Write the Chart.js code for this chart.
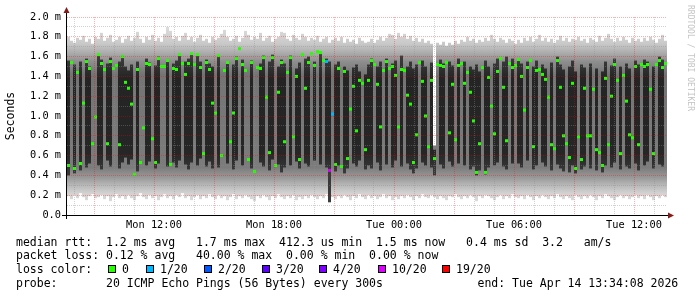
<!DOCTYPE html>
<html>
<head>
<meta charset="utf-8">
<script src="https://cdn.jsdelivr.net/npm/chart.js@4.4.1/dist/chart.umd.min.js"></script>
<style>
    html, body { margin: 0; padding: 0; background: #fff; }
    #wrap { position: relative; width: 697px; height: 297px; overflow: hidden; background: #fff; }
    #chart { position: absolute; left: 0; top: 0; }
    .txt {
        position: absolute;
        font-family: 'DejaVu Sans Mono', monospace;
        font-size: 11.5px;
        line-height: 14px;
        color: #000;
        white-space: pre;
    }
    .box { position: absolute; width: 8px; height: 8px; box-sizing: border-box; border: 1px solid #000; }
    #wm {
        position: absolute;
        left: 695px;
        top: 5px;
        transform: rotate(90deg);
        transform-origin: 0 0;
        font-family: 'DejaVu Sans Mono', monospace;
        font-size: 8px;
        line-height: 10px;
        color: #c4c4c4;
        white-space: pre;
    }
</style>
</head>
<body>
<div id="wrap">
    <canvas id="chart" width="697" height="297"></canvas>
    <div id="wm">RRDTOOL / TOBI OETIKER</div>
    <div class="txt" style="left:16px;top:234.5px">median rtt:  1.2 ms avg   1.7 ms max  412.3 us min  1.5 ms now   0.4 ms sd  3.2   am/s</div>
    <div class="txt" style="left:16px;top:248px">packet loss: 0.12 % avg   40.00 % max  0.00 % min  0.00 % now</div>
    <div class="txt" style="left:16px;top:262px">loss color:</div>
    <div id="lossLegend"></div>
    <div class="txt" style="left:16px;top:276px">probe:       20 ICMP Echo Pings (56 Bytes) every 300s</div>
    <div class="txt" style="left:477.5px;top:276px">end: Tue Apr 14 13:34:08 2026</div>
</div>
<script>
// time axis: hours since Mon 00:00, one bin = 9 minutes
const hourStart = 7.65
const binHours = 0.15
const spanHours = 30
const timeTicks = [12, 18, 24, 30, 36]
const timeLabels = ['Mon 12:00', 'Mon 18:00', 'Tue 00:00', 'Tue 06:00', 'Tue 12:00']

// median rtt per bin (ms)
const medianRtt = [
    0.50, 1.54, 0.47, 1.44, 0.52, 1.13, 1.55, 1.48, 0.72, 0.99,
    1.62, 1.53, 1.47, 0.72, 1.55, 1.48, 1.51, 0.71, 1.60, 1.34,
    1.28, 1.12, 0.41, 1.47, 0.53, 0.88, 1.53, 1.52, 0.77, 0.53,
    1.58, 1.50, 1.50, 1.56, 0.51, 1.48, 1.47, 1.62, 1.53, 1.42,
    1.53, 1.63, 1.52, 1.62, 1.49, 0.62, 1.54, 1.47, 1.13, 1.03,
    1.61, 0.60, 1.46, 1.54, 0.74, 1.03, 1.58, 1.68, 1.52, 1.46,
    0.56, 1.54, 0.44, 1.49, 1.48, 1.59, 1.19, 0.63, 1.59, 0.50,
    1.24, 1.54, 0.74, 1.44, 1.59, 0.79, 1.40, 0.56, 1.62, 1.28,
    1.54, 1.63, 1.51, 1.65, 1.64, 1.56, 1.55, 0.45, 1.02, 0.51,
    1.48, 0.49, 1.45, 0.57, 1.07, 1.30, 0.85, 1.36, 1.33, 0.66,
    1.36, 1.56, 1.52, 1.32, 0.89, 1.46, 1.55, 1.48, 1.50, 1.41,
    0.89, 1.47, 1.46, 1.21, 1.12, 0.53, 0.81, 1.54, 1.35, 1.00,
    0.69, 1.36, 0.57, 1.52, 1.51, 1.50, 1.54, 0.83, 1.32, 0.76,
    1.51, 1.53, 1.33, 1.44, 1.24, 0.95, 0.43, 0.72, 1.49, 0.43,
    1.39, 1.10, 0.82, 1.45, 1.58, 1.29, 0.75, 1.53, 1.49, 1.51,
    1.57, 1.40, 1.06, 1.49, 1.56, 0.69, 1.46, 1.47, 1.42, 1.37,
    1.19, 0.71, 0.67, 1.56, 1.29, 0.80, 0.72, 0.58, 1.33, 0.47,
    0.79, 0.56, 1.28, 0.80, 0.80, 1.27, 0.66, 0.63, 0.50, 1.38,
    0.71, 1.20, 1.52, 1.36, 0.62, 1.41, 1.15, 0.81, 0.78, 1.50,
    0.71, 1.52, 1.50, 1.52, 1.27, 0.62, 1.52, 1.56, 1.49, 1.53,
]

// lowest and highest ping per bin (ms)
const rttMin = [
    0.19, 0.16, 0.20, 0.17, 0.22, 0.18, 0.15, 0.19, 0.21, 0.17,
    0.18, 0.20, 0.16, 0.19, 0.14, 0.18, 0.21, 0.17, 0.19, 0.16,
    0.20, 0.17, 0.15, 0.19, 0.22, 0.18, 0.16, 0.20, 0.17, 0.19,
    0.15, 0.18, 0.21, 0.17, 0.19, 0.16, 0.20, 0.18, 0.22, 0.17,
    0.19, 0.15, 0.18, 0.20, 0.16, 0.19, 0.17, 0.21, 0.18, 0.16,
    0.20, 0.17, 0.19, 0.15, 0.18, 0.21, 0.16, 0.19, 0.17, 0.20,
    0.18, 0.16, 0.14, 0.19, 0.17, 0.20, 0.18, 0.15, 0.19, 0.17,
    0.21, 0.18, 0.16, 0.19, 0.17, 0.20, 0.15, 0.18, 0.16, 0.19,
    0.17, 0.20, 0.18, 0.16, 0.19, 0.17, 0.21, 0.12, 0.18, 0.16,
    0.19, 0.17, 0.20, 0.18, 0.15, 0.19, 0.17, 0.21, 0.18, 0.16,
    0.20, 0.17, 0.19, 0.16, 0.18, 0.21, 0.17, 0.19, 0.15, 0.18,
    0.16, 0.19, 0.17, 0.20, 0.18, 0.15, 0.19, 0.17, 0.21, 0.18,
    0.17, 0.20, 0.18, 0.16, 0.19, 0.17, 0.15, 0.19, 0.18, 0.21,
    0.18, 0.16, 0.19, 0.17, 0.20, 0.18, 0.14, 0.19, 0.17, 0.20,
    0.19, 0.17, 0.15, 0.18, 0.20, 0.16, 0.19, 0.17, 0.21, 0.18,
    0.17, 0.19, 0.16, 0.20, 0.18, 0.15, 0.19, 0.17, 0.20, 0.18,
    0.16, 0.19, 0.17, 0.21, 0.18, 0.16, 0.19, 0.17, 0.15, 0.20,
    0.18, 0.16, 0.19, 0.17, 0.20, 0.18, 0.15, 0.19, 0.17, 0.21,
    0.19, 0.17, 0.15, 0.18, 0.20, 0.17, 0.19, 0.16, 0.18, 0.20,
    0.17, 0.19, 0.16, 0.20, 0.18, 0.15, 0.19, 0.17, 0.20, 0.18,
]
const rttMax = [
    1.80, 1.76, 1.74, 1.79, 1.77, 1.81, 1.75, 1.78, 1.73, 1.80,
    1.78, 1.84, 1.76, 1.79, 1.82, 1.75, 1.77, 1.80, 1.74, 1.78,
    1.81, 1.76, 1.79, 1.85, 1.78, 1.74, 1.80, 1.77, 1.82, 1.76,
    1.79, 1.75, 1.83, 1.90, 1.86, 1.78, 1.80, 1.76, 1.81, 1.84,
    1.77, 1.80, 1.75, 1.79, 1.82, 1.76, 1.78, 1.74, 1.80, 1.77,
    1.79, 1.83, 1.87, 1.80, 1.76, 1.78, 1.81, 1.75, 1.79, 1.86,
    1.82, 1.77, 1.80, 1.78, 1.84, 1.76, 1.79, 1.81, 1.75, 1.78,
    1.80, 1.85, 1.84, 1.78, 1.76, 1.82, 1.79, 1.77, 1.83, 1.80,
    1.76, 1.79, 1.77, 1.81, 1.75, 1.78, 1.80, 1.74, 1.77, 1.79,
    1.76, 1.80, 1.74, 1.78, 1.75, 1.77, 1.73, 1.79, 1.76, 1.74,
    1.75, 1.78, 1.74, 1.77, 1.80, 1.76, 1.79, 1.83, 1.82, 1.78,
    1.84, 1.80, 1.83, 1.78, 1.81, 1.76, 1.79, 1.75, 1.78, 1.74,
    1.76, 1.73, 0.70, 1.74, 1.72, 1.75, 1.71, 1.74, 1.72, 1.76,
    1.73, 1.77, 1.75, 1.80, 1.76, 1.78, 1.74, 1.77, 1.75, 1.79,
    1.76, 1.82, 1.78, 1.75, 1.79, 1.77, 1.74, 1.78, 1.76, 1.73,
    1.77, 1.74, 1.79, 1.76, 1.80, 1.75, 1.78, 1.82, 1.76, 1.79,
    1.75, 1.78, 1.74, 1.77, 1.81, 1.76, 1.79, 1.75, 1.78, 1.77,
    1.80, 1.76, 1.78, 1.74, 1.79, 1.77, 1.75, 1.81, 1.76, 1.79,
    1.83, 1.78, 1.75, 1.79, 1.76, 1.80, 1.77, 1.74, 1.79, 1.76,
    1.78, 1.75, 1.79, 1.76, 1.80, 1.77, 1.74, 1.78, 1.82, 1.76,
]

// dense middle of the pings per bin (null = spread out, no dark core)
const coreLo = [
    0.40, null, 0.42, null, 0.45, null, 0.48, 0.52, null, null,
    0.50, 0.46, null, 0.55, 0.49, null, null, 0.47, 0.53, 0.58,
    0.51, 0.56, null, 0.44, null, null, 0.50, 0.54, null, 0.47,
    0.52, null, null, 0.49, null, 0.53, 0.48, 0.55, null, 0.51,
    0.46, 0.53, null, 0.50, 0.57, null, 0.49, 0.54, 0.47, null,
    0.48, null, null, 0.52, null, 0.46, 0.55, null, 0.50, null,
    null, 0.47, null, null, 0.53, 0.49, null, 0.45, 0.56, null,
    0.51, 0.43, 0.48, null, 0.50, null, 0.54, 0.47, null, 0.52,
    0.49, null, 0.55, null, 0.51, null, 0.48, 0.13, null, 0.44,
    0.50, null, 0.42, 0.47, null, 0.52, 0.49, 0.55, null, 0.46,
    0.50, 0.47, null, 0.53, 0.45, null, 0.51, null, 0.48, 0.55,
    null, 0.49, null, 0.52, 0.46, 0.42, 0.47, null, 0.53, 0.50,
    null, 0.48, 0.40, null, 0.51, 0.47, null, 0.54, 0.49, null,
    0.52, null, 0.50, null, 0.46, 0.49, 0.40, 0.45, null, 0.41,
    0.48, null, 0.50, 0.53, null, 0.49, 0.46, null, 0.52, null,
    0.52, 0.48, null, 0.55, null, 0.46, 0.50, null, 0.53, 0.49,
    null, 0.45, null, 0.51, 0.47, 0.44, null, 0.43, 0.50, 0.42,
    null, 0.46, 0.49, null, 0.47, null, 0.45, null, 0.43, 0.50,
    null, 0.48, 0.53, null, 0.46, null, 0.49, 0.47, null, 0.52,
    0.45, null, 0.50, 0.54, null, 0.47, null, 0.51, 0.49, null,
]
const coreHi = [
    1.56, null, 1.52, null, 1.55, null, 1.58, 1.50, null, null,
    1.62, 1.57, null, 1.53, 1.59, null, null, 1.55, 1.61, 1.50,
    1.46, 1.52, null, 1.55, null, null, 1.58, 1.54, null, 1.51,
    1.60, null, null, 1.57, null, 1.53, 1.56, 1.62, null, 1.55,
    1.58, 1.63, null, 1.61, 1.55, null, 1.57, 1.53, 1.50, null,
    1.60, null, null, 1.55, null, 1.52, 1.60, null, 1.57, null,
    null, 1.56, null, null, 1.53, 1.61, null, 1.55, 1.62, null,
    1.50, 1.57, 1.53, null, 1.61, null, 1.48, 1.54, null, 1.58,
    1.60, null, 1.55, null, 1.63, null, 1.58, 1.55, null, 1.52,
    1.55, null, 1.50, 1.46, null, 1.49, 1.52, 1.45, null, 1.42,
    1.52, 1.58, null, 1.50, 1.55, null, 1.58, null, 1.53, 1.56,
    null, 1.61, null, 1.50, 1.55, 1.48, 1.52, null, 1.56, 1.50,
    null, 1.54, 0.66, null, 1.57, 1.53, null, 1.55, 1.51, null,
    1.58, null, 1.55, null, 1.50, 1.47, 1.52, 1.45, null, 1.56,
    1.50, null, 1.53, 1.58, null, 1.55, 1.60, null, 1.58, null,
    1.58, 1.53, null, 1.55, null, 1.50, 1.56, null, 1.52, 1.48,
    null, 1.54, null, 1.60, 1.52, 1.47, null, 1.50, 1.56, 1.45,
    null, 1.52, 1.49, null, 1.53, null, 1.48, null, 1.45, 1.55,
    null, 1.51, 1.58, null, 1.50, null, 1.53, 1.48, null, 1.56,
    1.52, null, 1.57, 1.55, null, 1.50, null, 1.60, 1.57, null,
]

// lost pings (of 20) per bin
const lossCount = [
    0, 0, 0, 0, 0, 0, 0, 0, 0, 0, 0, 0, 0, 0, 0, 0, 0, 0, 0, 0,
    0, 0, 0, 0, 0, 0, 0, 0, 0, 0, 0, 0, 0, 0, 0, 0, 0, 0, 0, 0,
    0, 0, 0, 0, 0, 0, 0, 0, 0, 0, 0, 0, 0, 0, 0, 0, 0, 0, 0, 0,
    0, 0, 0, 0, 0, 0, 0, 0, 0, 0, 0, 0, 0, 0, 0, 0, 0, 0, 0, 0,
    0, 0, 0, 0, 0, 0, 1, 8, 1, 0, 0, 0, 0, 0, 0, 0, 0, 0, 0, 0,
    0, 0, 0, 0, 0, 0, 0, 0, 0, 0, 0, 0, 0, 0, 0, 0, 0, 0, 0, 0,
    0, 0, 0, 0, 0, 0, 0, 0, 0, 0, 0, 0, 0, 0, 0, 0, 0, 0, 0, 0,
    0, 0, 0, 0, 0, 0, 0, 0, 0, 0, 0, 0, 0, 0, 0, 0, 0, 0, 0, 0,
    0, 0, 0, 0, 0, 0, 0, 0, 0, 0, 0, 0, 0, 0, 0, 0, 0, 0, 0, 0,
    0, 0, 0, 0, 0, 0, 0, 0, 0, 0, 0, 0, 0, 0, 0, 0, 0, 0, 0, 0,
]

const lossSteps = [0, 1, 2, 3, 4, 10, 19]
const lossColors = ['#26ff00', '#00b8ff', '#0059ff', '#5e00ff', '#7e00ff', '#dd00ff', '#ff0000']

// smoke shading, value (ms) -> grey
const smokeStops = [
    [0.10, '#dedede'],
    [0.22, '#d2d2d2'],
    [0.30, '#b8b8b8'],
    [0.38, '#989898'],
    [0.48, '#7c7c7c'],
    [1.42, '#747474'],
    [1.55, '#8e8e8e'],
    [1.64, '#adadad'],
    [1.73, '#c9c9c9'],
    [1.90, '#dddddd'],
]
const coreStops = [
    [0.10, '#3c3c3c'],
    [0.45, '#383838'],
    [0.62, '#262626'],
    [1.38, '#242424'],
    [1.60, '#3e3e3e'],
]

const gridRed = 'rgba(255, 0, 0, 0.32)'
const gridGrey = 'rgba(140, 140, 140, 0.4)'
const arrowRed = '#841c1c'
const monoFont = "'DejaVu Sans Mono', monospace"

const lossColor = (n) => {
    for (let i = 0; i < lossSteps.length; i++) {
        if (n <= lossSteps[i]) return lossColors[i]
    }
    return lossColors[lossColors.length - 1]
}

const binTime = medianRtt.map((_, i) => hourStart + (i + 0.5) * binHours)

// legend boxes for loss colours
const boxLefts = [108, 146, 204, 262, 319, 378, 442]
const legendEl = document.getElementById('lossLegend')
lossSteps.forEach((s, i) => {
    const b = document.createElement('div')
    b.className = 'box'
    b.style.left = boxLefts[i] + 'px'
    b.style.top = '265px'
    b.style.background = lossColors[i]
    legendEl.appendChild(b)
    const t = document.createElement('div')
    t.className = 'txt'
    t.style.left = boxLefts[i] + 14 + 'px'
    t.style.top = '262px'
    t.textContent = s === 0 ? '0' : s + '/20'
    legendEl.appendChild(t)
})

const verticalFill = (stops) => (context) => {
    const chart = context.chart
    if (!chart.chartArea) return '#888'
    const y = chart.scales.y
    const v0 = stops[0][0]
    const v1 = stops[stops.length - 1][0]
    const g = chart.ctx.createLinearGradient(0, y.getPixelForValue(v0), 0, y.getPixelForValue(v1))
    stops.forEach(([v, c]) => g.addColorStop((v - v0) / (v1 - v0), c))
    return g
}

const axesPlugin = {
    id: 'axes',
    afterDraw(chart) {
        const c = chart.ctx
        const a = chart.chartArea
        c.save()
        c.fillStyle = '#000'
        c.fillRect(a.left - 1, 11, 1, a.bottom - 11 + 4)
        c.fillRect(a.left - 5, a.bottom, a.right - a.left + 6, 1)
        c.fillStyle = arrowRed
        c.beginPath()
        c.moveTo(a.left - 0.5, 7)
        c.lineTo(a.left - 3.5, 13)
        c.lineTo(a.left + 2.5, 13)
        c.closePath()
        c.fill()
        c.beginPath()
        c.moveTo(a.right + 7, a.bottom + 0.5)
        c.lineTo(a.right + 1, a.bottom - 2.5)
        c.lineTo(a.right + 1, a.bottom + 3.5)
        c.closePath()
        c.fill()
        c.restore()
    },
}

const isMajorY = (v) => Math.round(v * 10) % 2 === 0

new Chart(document.getElementById('chart'), {
    type: 'bar',
    plugins: [axesPlugin],
    data: {
        datasets: [
            {
                label: 'smoke',
                data: rttMin.map((v, i) => ({ x: binTime[i], y: [v, rttMax[i]] })),
                backgroundColor: verticalFill(smokeStops),
                borderWidth: 0,
                grouped: false,
                barThickness: 3,
                inflateAmount: 0,
                order: 3,
            },
            {
                label: 'core',
                data: coreLo
                    .map((v, i) => ({ x: binTime[i], y: [v, coreHi[i]] }))
                    .filter((d) => d.y[0] !== null),
                backgroundColor: verticalFill(coreStops),
                borderWidth: 0,
                grouped: false,
                barThickness: 3,
                inflateAmount: 0,
                order: 2,
            },
            {
                type: 'line',
                label: 'median rtt',
                data: medianRtt.map((v, i) => ({ x: binTime[i], y: v })),
                showLine: false,
                pointStyle: 'rect',
                pointRadius: 2.13,
                pointBorderWidth: 0,
                pointBackgroundColor: (ctx) => lossColor(lossCount[ctx.dataIndex]),
                order: 1,
            },
        ],
    },
    options: {
        responsive: false,
        animation: false,
        devicePixelRatio: 1,
        events: [],
        layout: { padding: { top: 17, right: 30, left: 0, bottom: 0 } },
        plugins: {
            legend: { display: false },
            tooltip: { enabled: false },
        },
        scales: {
            x: {
                type: 'linear',
                min: hourStart,
                max: hourStart + spanHours,
                offset: false,
                afterFit: (s) => { s.height = 82 },
                afterBuildTicks: (s) => {
                    const t = []
                    for (let h = Math.ceil(hourStart); h < hourStart + spanHours; h++) t.push({ value: h })
                    s.ticks = t
                },
                ticks: {
                    autoSkip: false,
                    maxRotation: 0,
                    padding: 4,
                    color: '#000',
                    font: { family: monoFont, size: 10.3 },
                    callback: (v) => {
                        const i = timeTicks.indexOf(v)
                        return i < 0 ? '' : timeLabels[i]
                    },
                },
                grid: {
                    z: 1,
                    offset: false,
                    drawTicks: false,
                    lineWidth: 1,
                    color: (ctx) => (ctx.tick && ctx.tick.value % 3 === 0 ? gridRed : gridGrey),
                },
                border: { display: false, dash: [1, 1] },
            },
            y: {
                min: 0,
                max: 2,
                afterFit: (s) => { s.width = 67 },
                afterBuildTicks: (s) => {
                    const t = []
                    for (let k = 0; k <= 20; k++) t.push({ value: k / 10 })
                    s.ticks = t
                },
                ticks: {
                    autoSkip: false,
                    padding: 6,
                    color: '#000',
                    font: { family: monoFont, size: 10.3 },
                    callback: (v) => {
                        const k = Math.round(v * 10)
                        if (k % 2) return ''
                        return k === 0 ? '0.0' : (k / 10).toFixed(1) + ' m'
                    },
                },
                grid: {
                    z: 1,
                    drawTicks: false,
                    lineWidth: 1,
                    color: (ctx) => (ctx.tick && isMajorY(ctx.tick.value) ? gridRed : gridGrey),
                },
                border: { display: false, dash: [1, 1] },
                title: {
                    display: true,
                    text: 'Seconds',
                    color: '#000',
                    font: { family: monoFont, size: 11.5 },
                    padding: { top: 4, bottom: 0 },
                },
            },
        },
    },
})
</script>
</body>
</html>
